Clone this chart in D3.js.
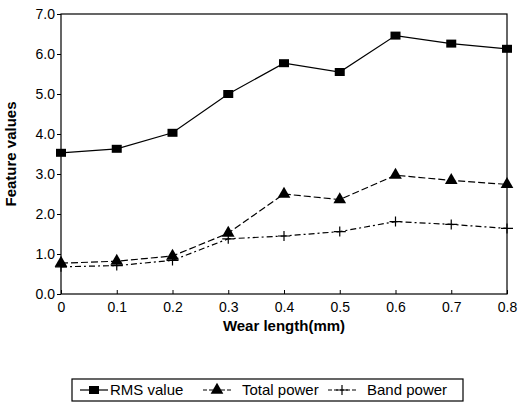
<!DOCTYPE html>
<html>
<head>
<meta charset="utf-8">
<script src="https://cdn.jsdelivr.net/npm/d3@7"></script>
<style>
  body { margin: 0; background: #fff; }
  svg { display: block; font-family: "Liberation Sans", Arial, sans-serif; }
</style>
</head>
<body>
<svg id="chart" width="518" height="411"></svg>
<script>
// --- data
const wear = [0, 0.1, 0.2, 0.3, 0.4, 0.5, 0.6, 0.7, 0.8];
const rmsValue   = [3.53, 3.63, 4.03, 5.0, 5.77, 5.55, 6.46, 6.26, 6.13];
const totalPower = [0.77, 0.82, 0.95, 1.52, 2.5, 2.36, 2.97, 2.84, 2.74];
const bandPower  = [0.68, 0.71, 0.84, 1.38, 1.45, 1.56, 1.81, 1.74, 1.64];
const yTicks = [0, 1, 2, 3, 4, 5, 6, 7];
const xTicks = wear;

const series = [
  { name: "RMS value",   values: rmsValue,   marker: "square",   dash: null },
  { name: "Total power", values: totalPower, marker: "triangle", dash: "7,3" },
  { name: "Band power",  values: bandPower,  marker: "plus",     dash: "6,3,2,3" }
];

const svg = d3.select("#chart");
const M = { left: 61, right: 11, top: 14, bottom: 117 };
const W = 518, H = 411;
const x = d3.scaleLinear().domain([0, 0.8]).range([M.left, W - M.right]);
const y = d3.scaleLinear().domain([0, 7]).range([H - M.bottom, M.top]);

// frame
svg.append("rect")
  .attr("x", x(0)).attr("y", y(7))
  .attr("width", x(0.8) - x(0)).attr("height", y(0) - y(7))
  .attr("fill", "none").attr("stroke", "#000").attr("stroke-width", 1.2);

// y axis
const gy = svg.append("g").attr("transform", `translate(${x(0)},0)`)
  .call(d3.axisLeft(y).tickValues(yTicks).tickFormat(d3.format(".1f")).tickSize(4).tickPadding(2));
gy.select(".domain").remove();
gy.selectAll("text").attr("font-size", 14).attr("fill", "#000").attr("font-family", "Liberation Sans, Arial");

// x axis, ticks pointing inward
const gx = svg.append("g").attr("transform", `translate(0,${y(0)})`)
  .call(d3.axisBottom(x).tickValues(xTicks).tickFormat(d => d === 0 ? "0" : d3.format(".1f")(d)).tickSize(-4).tickPadding(8));
gx.select(".domain").remove();
gx.selectAll("text").attr("font-size", 14).attr("fill", "#000").attr("font-family", "Liberation Sans, Arial");

// axis titles
svg.append("text")
  .attr("x", (x(0) + x(0.8)) / 2).attr("y", 331)
  .attr("text-anchor", "middle").attr("font-weight", "bold").attr("font-size", 15)
  .text("Wear length(mm)");
svg.append("text")
  .attr("transform", `translate(16,${(y(0) + y(7)) / 2}) rotate(-90)`)
  .attr("text-anchor", "middle").attr("font-weight", "bold").attr("font-size", 15)
  .text("Feature values");

function drawMarker(g, type, cx, cy) {
  if (type === "square") {
    g.append("rect").attr("x", cx - 5).attr("y", cy - 4).attr("width", 10).attr("height", 8).attr("fill", "#000");
  } else if (type === "triangle") {
    g.append("path").attr("d", d3.symbol(d3.symbolTriangle, 70)()).attr("transform", `translate(${cx},${cy})`).attr("fill", "#000");
  } else {
    g.append("path").attr("d", `M${cx - 6},${cy}H${cx + 6}M${cx},${cy - 5}V${cy + 5}`).attr("stroke", "#000").attr("stroke-width", 1.2);
  }
}

const line = d3.line().x((d, i) => x(wear[i])).y(d => y(d));
series.forEach(s => {
  svg.append("path").datum(s.values).attr("d", line)
    .attr("fill", "none").attr("stroke", "#000").attr("stroke-width", 1.2)
    .attr("stroke-dasharray", s.dash);
  const gm = svg.append("g");
  s.values.forEach((v, i) => drawMarker(gm, s.marker, x(wear[i]), y(v)));
});

// legend
const leg = svg.append("g");
leg.append("rect").attr("x", 72).attr("y", 379).attr("width", 391).attr("height", 22)
  .attr("fill", "none").attr("stroke", "#000").attr("stroke-width", 1.2);
const legX = [80, 203, 328];
const legText = [110, 242, 367];
series.forEach((s, i) => {
  const cy = 390;
  leg.append("line").attr("x1", legX[i]).attr("x2", legX[i] + 28).attr("y1", cy).attr("y2", cy)
    .attr("stroke", "#000").attr("stroke-width", 1.2).attr("stroke-dasharray", s.dash ? "4,2" : null);
  drawMarker(leg, s.marker, legX[i] + 14, cy);
  leg.append("text").attr("x", legText[i]).attr("y", cy + 5).attr("font-size", 15).text(s.name);
});
</script>
</body>
</html>
